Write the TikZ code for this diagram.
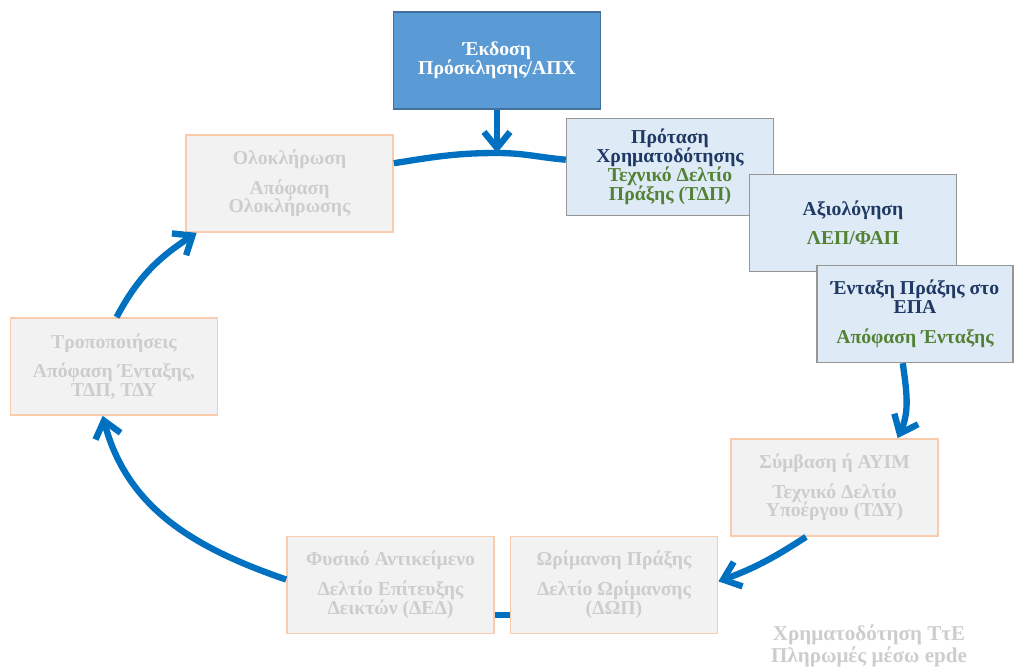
\documentclass[tikz,border=0pt]{standalone}
\usepackage{fontspec}
\setmainfont{Liberation Serif}
\usetikzlibrary{arrows.meta}
\definecolor{flowblue}{RGB}{0,112,192}
\definecolor{callblue}{RGB}{91,155,213}
\definecolor{callline}{RGB}{65,113,156}
\definecolor{paleblue}{RGB}{222,235,247}
\definecolor{paleline}{RGB}{150,150,150}
\definecolor{palegrey}{RGB}{242,242,242}
\definecolor{paleorange}{RGB}{248,203,173}
\definecolor{fadedtext}{RGB}{205,205,205}
\definecolor{navytext}{RGB}{31,56,100}
\definecolor{leaftext}{RGB}{84,130,53}
\newcommand{\subline}[1]{\textcolor{leaftext}{#1}}
\tikzset{
	stage/.style={rectangle, minimum width=5.175cm, minimum height=2.425cm, inner sep=2pt, align=center, font=\fontsize{14}{13.5}\selectfont\bfseries},
	callbox/.style={stage, fill=callblue, draw=callline, line width=1pt, text=white},
	bluebox/.style={stage, fill=paleblue, draw=paleline, line width=1pt, text=navytext},
	greybox/.style={stage, fill=palegrey, draw=paleorange, line width=1.2pt, text=fadedtext},
	flow/.style={draw=flowblue, line width=4.5pt, -{Straight Barb[length=4mm,width=6.5mm]}},
	link/.style={draw=flowblue, line width=4.5pt}
}
\begin{document}
\begin{tikzpicture}[x=0.025cm,y=-0.025cm]
			\useasboundingbox (0,0) rectangle (1016,667);
			% upper stages
			\node[callbox] (ekdosi) at (497,60.5) {Έκδοση\\Πρόσκλησης/ΑΠΧ};
			\node[greybox] (olok) at (289.5,183.5) {Ολοκλήρωση\\[7.5pt]Απόφαση\\Ολοκλήρωσης};
			\node[bluebox] (protasi) at (670,167) {Πρόταση\\Χρηματοδότησης\\\subline{Τεχνικό Δελτίο}\\\subline{Πράξης (ΤΔΠ)}};
			\node[bluebox] (axiol) at (853,223) {Αξιολόγηση\\[7.5pt]\subline{ΛΕΠ/ΦΑΠ}};
			\node[bluebox, minimum width=4.9cm] (entaxi) at (915,314) {Ένταξη Πράξης στο\\ΕΠΑ\\[7.5pt]\subline{Απόφαση Ένταξης}};
			% lower stages
			\node[greybox] (tropo) at (114,366.5) {Τροποποιήσεις\\[7.5pt]Απόφαση Ένταξης,\\ΤΔΠ, ΤΔΥ};
			\node[greybox] (symv) at (834.5,487.5) {Σύμβαση ή ΑΥΙΜ\\[7.5pt]Τεχνικό Δελτίο\\Υποέργου (ΤΔΥ)};
			\node[greybox] (fysiko) at (390.5,585) {Φυσικό Αντικείμενο\\[7.5pt]Δελτίο Επίτευξης\\Δεικτών (ΔΕΔ)};
			\node[greybox] (orim) at (614,585) {Ωρίμανση Πράξης\\[7.5pt]Δελτίο Ωρίμανσης\\(ΔΩΠ)};
			\node[align=center, text=fadedtext, font=\fontsize{15}{15.5}\selectfont\bfseries] (tte) at (869,646) {Χρηματοδότηση ΤτΕ\\Πληρωμές μέσω epde};
			\coordinate (apex) at (497,153);
			% cycle
			\draw[flow] (ekdosi) -- (apex);
			\draw[link] (olok.11) to[out=9,in=180] (apex) to[out=0,in=175] (protasi.176);
			\draw[flow] (entaxi.256) to[out=-82,in=66] (symv.38);
			\draw[flow] (symv.240) to[out=213,in=20] (orim.2);
			\draw[link] (orim.196) -- (fysiko.-16);
			\draw[flow] (fysiko.177) to[out=161,in=-75] (tropo.257);
			\draw[flow] (tropo.87) to[out=62,in=213] (olok.208);
\end{tikzpicture}
\end{document}
